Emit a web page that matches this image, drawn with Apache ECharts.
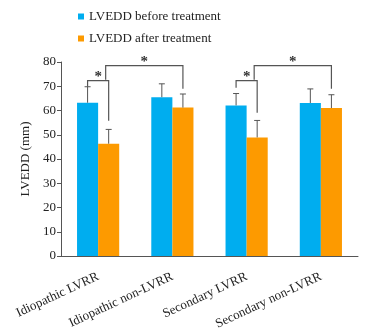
<!DOCTYPE html>
<html><head><meta charset="utf-8">
<script src="https://cdn.jsdelivr.net/npm/echarts@6/dist/echarts.min.js"></script>
<style>html,body{margin:0;padding:0;background:#fff}#c{width:376px;height:332px}</style>
</head><body><div id="c"></div>
<script>
var categories = ['Idiopathic LVRR', 'Idiopathic non-LVRR', 'Secondary LVRR', 'Secondary non-LVRR'];
var beforeValues = [63.2, 65.5, 62.1, 63.1];
var beforeErrors = [6.6, 5.5, 4.9, 5.8];
var afterValues = [46.3, 61.2, 48.9, 61.0];
var afterErrors = [5.9, 5.6, 7.0, 5.5];
var yTicks = [0, 10, 20, 30, 40, 50, 60, 70, 80];
// brackets: [leftCat, leftBar, leftLow, rightCat, rightBar, rightLow, top, wide]
var brackets = [
  [0, 0, 69.8, 0, 1, 55.8, 72.3, 0],
  [0, 1, 72.7, 1, 1, 69.0, 78.5, 1],
  [2, 0, 69.4, 2, 1, 59.1, 72.3, 0],
  [2, 1, 72.7, 3, 1, 69.0, 78.5, 1]
];
var blue = '#00adef', orange = '#fd9a00', lineCol = '#555';
var serif = '"Liberation Serif", "Times New Roman", serif';

function barOffset(api, bar) {
  var band = api.size([1, 0])[0];
  return (bar === 0 ? -1 : 1) * band * 0.142;
}

var errData = [];
for (var i = 0; i < categories.length; i++) {
  errData.push([i, beforeValues[i], beforeErrors[i], 0]);
  errData.push([i, afterValues[i], afterErrors[i], 1]);
}

var chart = echarts.init(document.getElementById('c'));
chart.setOption({
  animation: false,
  legend: {
    orient: 'vertical', left: 73, top: 5, itemGap: 9,
    itemWidth: 6, itemHeight: 6, icon: 'rect',
    textStyle: { fontFamily: serif, fontSize: 13, color: '#222' },
    data: ['LVEDD before treatment', 'LVEDD after treatment']
  },
  grid: { left: 61, right: 18, top: 62, bottom: 76, outerBoundsMode: 'none', containLabel: false },
  xAxis: {
    type: 'category', data: categories,
    axisLine: { lineStyle: { color: lineCol } },
    axisTick: { lineStyle: { color: lineCol }, length: 4 },
    axisLabel: { rotate: 25, margin: 20, fontFamily: serif, fontSize: 13, color: '#222' }
  },
  yAxis: {
    type: 'value', min: 0, max: 80, interval: 10,
    name: 'LVEDD (mm)', nameLocation: 'middle', nameGap: 22,
    nameTextStyle: { fontFamily: serif, fontSize: 13, color: '#222' },
    axisLine: { show: true, lineStyle: { color: lineCol } },
    axisTick: { show: true, length: 4, lineStyle: { color: lineCol } },
    splitLine: { show: false },
    axisLabel: { fontFamily: serif, fontSize: 13, color: '#222', margin: 5,
      formatter: function (v) { return yTicks.indexOf(v) >= 0 ? String(v) : ''; } }
  },
  series: [
    { name: 'LVEDD before treatment', type: 'bar', data: beforeValues, barWidth: '28.4%', barGap: '0%', itemStyle: { color: blue } },
    { name: 'LVEDD after treatment', type: 'bar', data: afterValues, barWidth: '28.4%', barGap: '0%', itemStyle: { color: orange } },
    {
      type: 'custom', data: errData, z: 5, silent: true,
      renderItem: function (params, api) {
        var cat = api.value(0), v = api.value(1), e = api.value(2), bar = api.value(3);
        var p0 = api.coord([cat, v]), p1 = api.coord([cat, v + e]);
        var x = p0[0] + barOffset(api, bar);
        var st = { stroke: lineCol, lineWidth: 1 };
        return { type: 'group', children: [
          { type: 'line', shape: { x1: x, y1: p0[1], x2: x, y2: p1[1] }, style: st },
          { type: 'line', shape: { x1: x - 3, y1: p1[1], x2: x + 3, y2: p1[1] }, style: st }
        ] };
      }
    },
    {
      type: 'custom', data: brackets, z: 6, silent: true,
      renderItem: function (params, api) {
        var lc = api.value(0), lb = api.value(1), ll = api.value(2);
        var rc = api.value(3), rb = api.value(4), rl = api.value(5);
        var top = api.value(6), wide = api.value(7);
        var xl = api.coord([lc, ll])[0] + barOffset(api, lb) - (wide ? 3 : 0);
        var xr = api.coord([rc, rl])[0] + barOffset(api, rb);
        var yl = api.coord([lc, ll])[1], yr = api.coord([rc, rl])[1], yt = api.coord([lc, top])[1];
        var st = { stroke: lineCol, lineWidth: 1.2, fill: null };
        return { type: 'group', children: [
          { type: 'polyline', shape: { points: [[xl, yl], [xl, yt], [xr, yt], [xr, yr]] }, style: st },
          { type: 'text', x: (xl + xr) / 2, y: yt - 11, style: { text: '*', fontFamily: serif, fontSize: 15, fontWeight: 'bold', fill: '#333', align: 'center', verticalAlign: 'top' } }
        ] };
      }
    }
  ]
});
</script></body></html>
